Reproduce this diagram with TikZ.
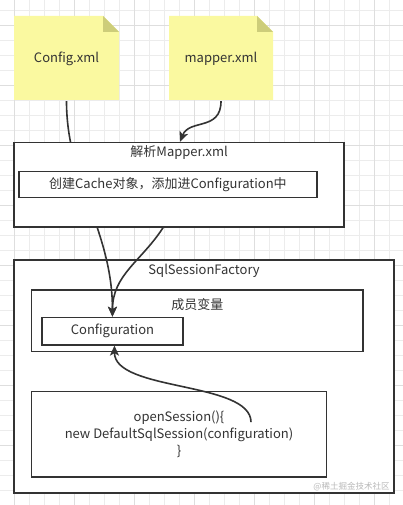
\documentclass[tikz,border=0pt]{standalone}
\usepackage{fontspec}
\setmainfont{Noto Sans CJK SC}
\usetikzlibrary{arrows.meta,positioning}
\definecolor{notefill}{RGB}{250,249,160}
\definecolor{foldfill}{RGB}{205,205,122}
\definecolor{inkgray}{RGB}{51,51,51}
\definecolor{gridminor}{RGB}{236,236,236}
\definecolor{gridmajor}{RGB}{222,222,222}
\pgfdeclarelayer{front}
\pgfsetlayers{main,front}

\begin{document}
\begin{tikzpicture}[x=1pt,y=-1pt,
    every node/.style={text=inkgray,font=\fontsize{13}{16.7}\selectfont},
    box/.style={draw=inkgray,fill=white,line width=1.6pt,inner sep=0pt,anchor=north west},
    notetext/.style={minimum width=105pt,minimum height=84pt,inner sep=0pt},
    flow/.style={draw=inkgray,line width=1.6pt,-{Stealth[length=10pt,width=9pt,inset=2.5pt]}},
    wmtext/.style={text=gray!55,font=\fontsize{8.5}{10}\selectfont}]
        \useasboundingbox (0,0) rectangle (403,505);
        \fill[white] (0,0) rectangle (403,505);
        % grid
        \foreach \gx in {-0.7,14.3,...,404} \draw[gridminor,line width=0.6pt] (\gx,0) -- (\gx,505);
        \foreach \gy in {10,25,...,505} \draw[gridminor,line width=0.6pt] (0,\gy) -- (403,\gy);
        \foreach \gx in {14.3,74.3,...,404} \draw[gridmajor,line width=0.6pt] (\gx,0) -- (\gx,505);
        \foreach \gy in {25,85,...,505} \draw[gridmajor,line width=0.6pt] (0,\gy) -- (403,\gy);
        % notes
        \fill[notefill] (14,16) -- (103,16) -- (119,32) -- (119,100) -- (14,100) -- cycle;
        \fill[foldfill] (103,16) -- (103,32) -- (119,32) -- cycle;
        \node[notetext] (cfg) at (66.5,59) {Config.xml};
        \fill[notefill] (169,16) -- (257,16) -- (273,32) -- (273,100) -- (169,100) -- cycle;
        \fill[foldfill] (257,16) -- (257,32) -- (273,32) -- cycle;
        \node[notetext] (mpr) at (221,59) {mapper.xml};
        % parse step
        \begin{pgfonlayer}{front}
        \node[box,minimum width=330pt,minimum height=84.3pt] (parse) at (13.3,141.7) {};
        \node (parsetitle) at ([yshift=-11pt]parse.north) {解析Mapper.xml};
        \node[box,minimum width=297.7pt,minimum height=26pt] (cache) at (18.3,170.7) {创建Cache对象，添加进Configuration中};
        \end{pgfonlayer}
        % factory
        \node[box,minimum width=380pt,minimum height=233.3pt] (sqlf) at (13.3,259) {};
        \node (sqlftitle) at ([yshift=-11.7pt]sqlf.north) {SqlSessionFactory};
        \node[box,minimum width=331.6pt,minimum height=61.7pt] (members) at (30.7,289) {};
        \node (memtitle) at ([yshift=-15.3pt]members.north) {成员变量};
        \node[box,minimum width=140.7pt,minimum height=27.3pt] (conf) at (41.3,316.7) {Configuration};
        \node[box,align=center,minimum width=295pt,minimum height=85.3pt] (open) at (30.7,390.7)
            {openSession()\{\\new DefaultSqlSession(configuration)\\\}};
        \node[wmtext] (wm) at (351.5,487) {@稀土掘金技术社区};
        % connectors
        \draw[flow] (cfg.south) .. controls +(0,80) and +(0,-87) .. (conf.north);
        \draw[flow] (mpr.south) .. controls +(0,30) and +(9,-23) .. ([xshift=1pt]parse.north);
        \draw[flow] ([xshift=-16pt]parse.south) .. controls +(-22,34) and +(0,-42) .. (conf.north);
        \draw[flow] ([xshift=72pt,yshift=12pt]open.center) .. controls +(0,-41) and +(0,46) .. ([xshift=2pt]conf.south);
\end{tikzpicture}
\end{document}
